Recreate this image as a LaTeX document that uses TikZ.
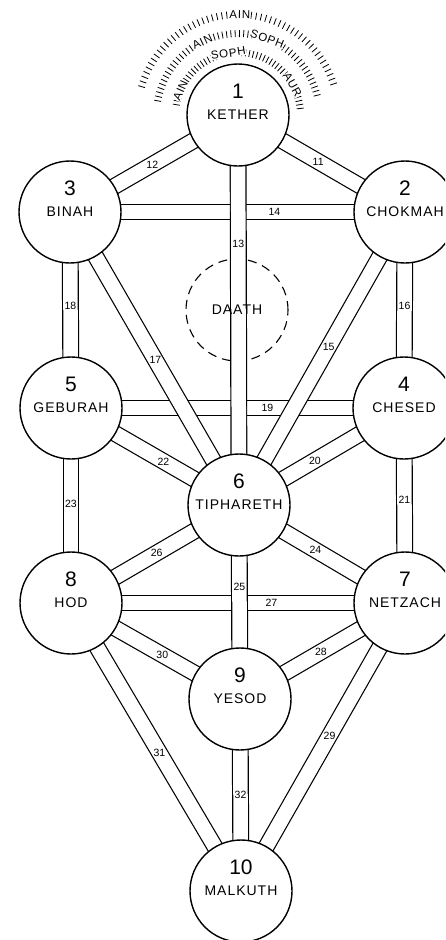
\documentclass[tikz,border=0pt]{standalone}
\usepackage{fontspec}
\setmainfont{Liberation Sans}
\newfontfamily\hand[LetterSpace=7]{Liberation Sans}
\usetikzlibrary{backgrounds}
\begin{document}
\begin{tikzpicture}[x=1pt,y=1pt,
  sef/.style={circle,draw,line width=1.4pt,fill=white,minimum size=102pt,inner sep=0pt},
  sname/.style={font=\hand\fontsize{14}{14}\selectfont,inner sep=0pt},
  snum/.style={font=\fontsize{21}{21}\selectfont,inner sep=0pt},
  chan/.style={double=white,double distance=14.5pt,line width=1.2pt},
  cnum/.style={font=\fontsize{10.5}{10.5}\selectfont,inner sep=0.5pt},
  dcircle/.style={circle,draw,dash pattern=on 9pt off 6pt,line width=1.1pt,minimum size=102pt,inner sep=0pt},
  halo/.style={font=\hand\fontsize{11.5}{11.5}\selectfont,fill=white,inner sep=0.3pt},
  tick/.style={line width=0.8pt}]
\useasboundingbox (0,0) rectangle (445,-940);
\clip (0,0) rectangle (445,-940);
% Sephiroth
\foreach \n/\x/\y/\k/\t in {kether/238/115/1/KETHER, chokmah/405/212/2/CHOKMAH, binah/70/212/3/BINAH,
  chesed/404/408/4/CHESED, geburah/71/408/5/GEBURAH, tiph/239/505/6/TIPHARETH,
  netzach/405/603/7/NETZACH, hod/71/603/8/HOD, yesod/240/699/9/YESOD, malkuth/241/891/10/MALKUTH} {
  \node[sef] (\n) at (\x,-\y) {};
  \node[sname] (\n-t) at (\n.center) {\t};
  \node[snum] (\n-k) at ([yshift=24pt]\n.center) {\k};
}
\begin{pgfonlayer}{background}
  \node[dcircle] (daath) at (237,-310) {};
  % horizontal paths (lowest)
  \draw[chan] (binah.center) -- node[cnum,pos=0.61] {14} (chokmah.center);
  \draw[chan] (geburah.center) -- node[cnum,pos=0.59] {19} (chesed.center);
  \draw[chan] (hod.center) -- node[cnum,pos=0.60] {27} (netzach.center);
  % others
  \draw[chan] (kether.center) -- node[cnum,pos=0.48] {11} (chokmah.center);
  \draw[chan] (kether.center) -- node[cnum,pos=0.51] {12} (binah.center);
  \draw[chan] (kether.center) -- node[cnum,pos=0.33] {13} (tiph.center);
  \draw[chan] (chokmah.center) -- node[cnum,pos=0.46] {15} (tiph.center);
  \draw[chan] (chokmah.center) -- node[cnum,pos=0.48] {16} (chesed.center);
  \draw[chan] (binah.center) -- node[cnum,pos=0.505] {17} (tiph.center);
  \draw[chan] (binah.center) -- node[cnum,pos=0.48] {18} (geburah.center);
  \draw[chan] (chesed.center) -- node[cnum,pos=0.54] {20} (tiph.center);
  \draw[chan] (chesed.center) -- node[cnum,pos=0.47] {21} (netzach.center);
  \draw[chan] (geburah.center) -- node[cnum,pos=0.55] {22} (tiph.center);
  \draw[chan] (geburah.center) -- node[cnum,pos=0.49] {23} (hod.center);
  \draw[chan] (tiph.center) -- node[cnum,pos=0.46] {24} (netzach.center);
  \draw[chan] (tiph.center) -- node[cnum,pos=0.42] {25} (yesod.center);
  \draw[chan] (tiph.center) -- node[cnum,pos=0.49] {26} (hod.center);
  \draw[chan] (netzach.center) -- node[cnum,pos=0.51] {28} (yesod.center);
  \draw[chan] (netzach.center) -- node[cnum,pos=0.46] {29} (malkuth.center);
  \draw[chan] (hod.center) -- node[cnum,pos=0.54] {30} (yesod.center);
  \draw[chan] (hod.center) -- node[cnum,pos=0.52] {31} (malkuth.center);
  \draw[chan] (yesod.center) -- node[cnum,pos=0.50] {32} (malkuth.center);
\end{pgfonlayer}
\node[sname] (daath-t) at (daath.center) {DAATH};
% Ain Soph Aur halo
\foreach \a in {6,9.5,...,172} \draw[tick] (kether.center) ++(\a:59) -- ++(\a:7);
\foreach \a in {14,17,...,170} \draw[tick] (kether.center) ++(\a:78) -- ++(\a:7);
\foreach \a in {18,20.8,...,166} \draw[tick] (kether.center) ++(\a:97) -- ++(\a:7);
\node[halo,rotate=66] (h1a) at ([shift={(157:62.5)}]kether.center) {AIN};
\node[halo,rotate=9] (h1b) at ([shift={(99:62.5)}]kether.center) {SOPH};
\node[halo,rotate=-61] (h1c) at ([shift={(29:62.5)}]kether.center) {AUR};
\node[halo,rotate=25] (h2a) at ([shift={(116:81.5)}]kether.center) {AIN};
\node[halo,rotate=-21] (h2b) at ([shift={(69:81.5)}]kether.center) {SOPH};
\node[halo,rotate=-1] (h3a) at ([shift={(89:100.5)}]kether.center) {AIN};
\end{tikzpicture}
\end{document}
